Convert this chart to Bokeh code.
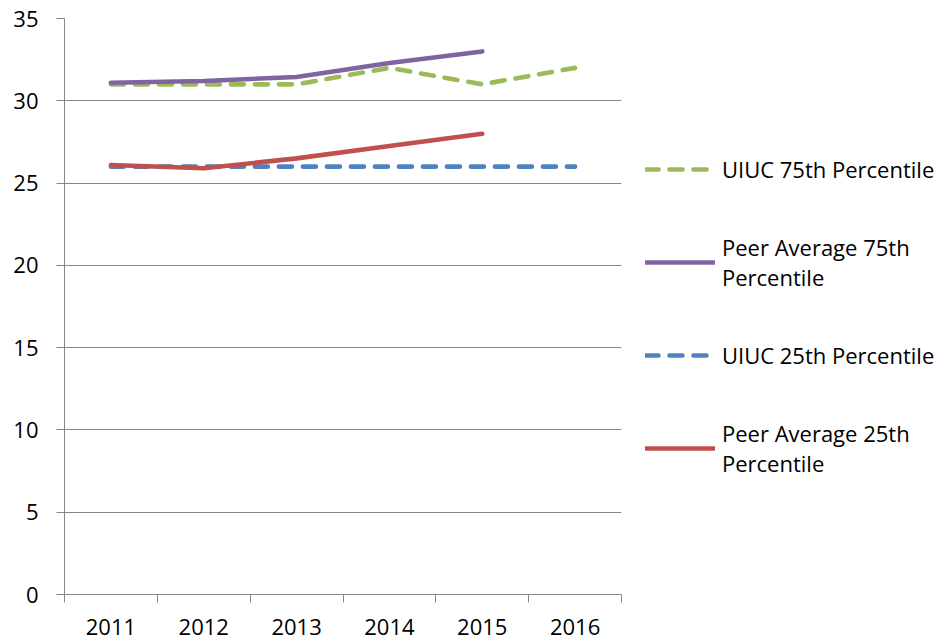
from bokeh.plotting import figure
from bokeh.models import FixedTicker, Legend, LegendItem, Range1d
from bokeh.embed import file_html
from bokeh.resources import INLINE

years = ["2011", "2012", "2013", "2014", "2015", "2016"]
uiuc75 = [31.0, 31.0, 31.0, 32.0, 31.0, 32.0]
peer75 = [31.1, 31.2, 31.45, 32.3, 33.0]
uiuc25 = [26.0, 26.0, 26.0, 26.0, 26.0, 26.0]
peer25 = [26.1, 25.9, 26.5, 27.25, 28.0]
y_ticks = [0, 5, 10, 15, 20, 25, 30, 35]

names = ["UIUC 75th Percentile", "Peer Average 75th\nPercentile",
         "UIUC 25th Percentile", "Peer Average 25th\nPercentile"]
colors = ["#9BBB59", "#8064A2", "#4F81BD", "#C0504D"]
dashes = ["13 11", "solid", "13 11", "solid"]
series = [uiuc75, peer75, uiuc25, peer25]

FONT = "Open Sans"
FS = "22px"
GRID = "#868686"

p = figure(frame_width=557, frame_height=576, output_backend="svg",
           toolbar_location=None, x_range=Range1d(0, len(years)),
           y_range=Range1d(0, 35),
           min_border_left=64, min_border_right=331, min_border_top=18,
           min_border_bottom=48)
p.outline_line_color = None
p.background_fill_color = "white"
p.border_fill_color = "white"

renderers = []
for vals, col, d in zip(series, colors, dashes):
    xs = [i + 0.5 for i in range(len(vals))]
    r = p.line(xs, vals, line_color=col, line_width=4.6, line_dash=d,
               line_cap="round", line_join="round")
    renderers.append(r)

# x axis: labels at category centres, tick marks at category boundaries
xa = p.xaxis[0]
xa.ticker = FixedTicker(ticks=[i + 0.5 for i in range(len(years))],
                        minor_ticks=list(range(len(years) + 1)))
xa.major_label_overrides = {i + 0.5: y for i, y in enumerate(years)}
xa.major_tick_out = 0
xa.major_tick_in = 0
xa.minor_tick_out = 8
xa.minor_tick_in = 0
xa.minor_tick_line_color = GRID
xa.axis_line_color = GRID
xa.major_label_text_font = FONT
xa.major_label_text_font_size = FS
xa.major_label_text_color = "black"
xa.major_label_standoff = 16

ya = p.yaxis[0]
ya.ticker = FixedTicker(ticks=y_ticks, minor_ticks=[])
ya.major_tick_out = 8
ya.major_tick_in = 0
ya.major_tick_line_color = GRID
ya.minor_tick_out = 0
ya.minor_tick_in = 0
ya.axis_line_color = GRID
ya.major_label_text_font = FONT
ya.major_label_text_font_size = FS
ya.major_label_text_color = "black"
ya.major_label_standoff = 18

p.xgrid.grid_line_color = None
p.ygrid.ticker = FixedTicker(ticks=y_ticks)
p.ygrid.grid_line_color = GRID
p.ygrid.grid_line_width = 1

items = [LegendItem(label=n, renderers=[r]) for n, r in zip(names, renderers)]
lg = Legend(items=items, location=(24, 116), padding=0, margin=0,
            border_line_color=None, background_fill_alpha=0,
            glyph_width=70, glyph_height=20, label_height=20,
            label_standoff=7, spacing=48, label_text_font=FONT,
            label_text_font_size=FS, label_text_color="black",
            label_text_line_height=1.5)
p.add_layout(lg, "right")

open("out.html", "w").write(file_html(p, INLINE))
